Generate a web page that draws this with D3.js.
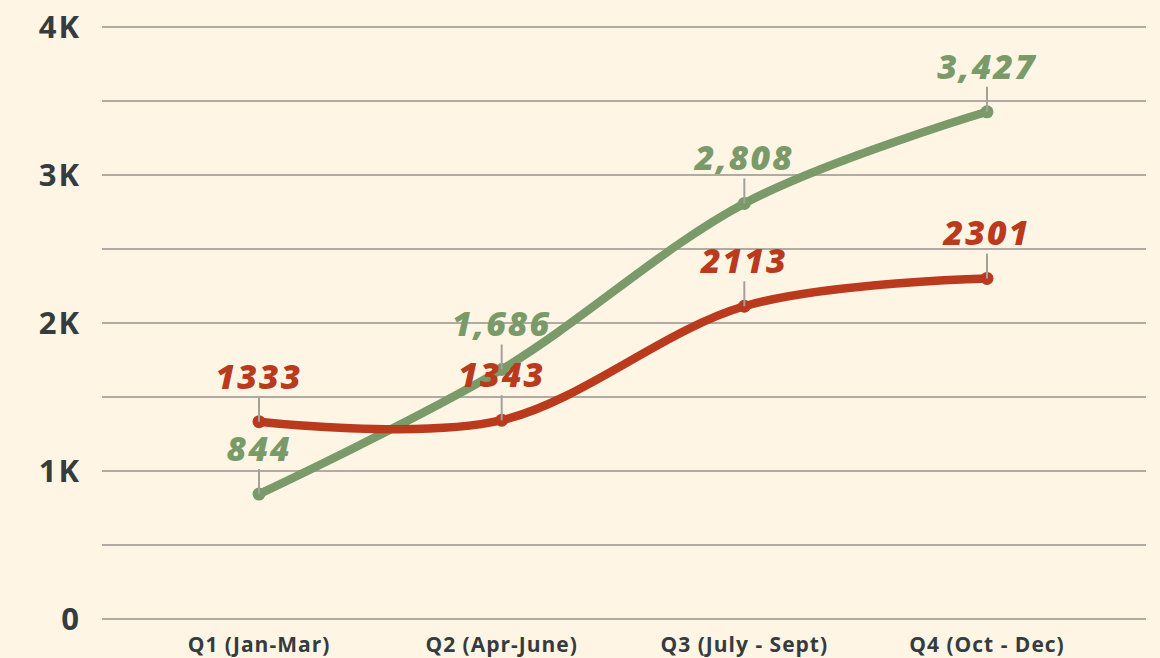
<!DOCTYPE html>
<html>
<head>
<meta charset="utf-8">
<script src="https://cdn.jsdelivr.net/npm/d3@7"></script>
<style>
  html, body { margin: 0; padding: 0; background: #FFF5E5; }
  text { font-family: "Open Sans", "DejaVu Sans", sans-serif; }
</style>
</head>
<body>
<script>
// chart data
const quarters = ["Q1 (Jan-Mar)", "Q2 (Apr-June)", "Q3 (July - Sept)", "Q4 (Oct - Dec)"];
const greenValues = [844, 1686, 2808, 3427];
const redValues = [1333, 1343, 2113, 2301];
const greenLabels = ["844", "1,686", "2,808", "3,427"];
const redLabels = ["1333", "1343", "2113", "2301"];
const yTicks = [0, 500, 1000, 1500, 2000, 2500, 3000, 3500, 4000];

const W = 1160, H = 658;
const bg = "#FFF5E5";
const gridColor = "#B1ABA3";
const textColor = "#363B3E";
const green = "#7A9B69";
const red = "#B93A1C";

const svg = d3.select("body").append("svg")
  .attr("width", W).attr("height", H)
  .style("background-color", bg);

const x = d3.scalePoint().domain(quarters).range([259, 987]);
const y = d3.scaleLinear().domain([0, 4000]).range([619, 27]);

// gridlines
svg.append("g").selectAll("line").data(yTicks).join("line")
  .attr("x1", 102).attr("x2", 1146)
  .attr("y1", d => y(d)).attr("y2", d => y(d))
  .attr("stroke", gridColor).attr("stroke-width", 2);

// y labels (only thousands)
svg.append("g").selectAll("text").data(yTicks.filter(d => d % 1000 === 0)).join("text")
  .attr("x", 81).attr("y", d => y(d) + 11)
  .attr("text-anchor", "end")
  .attr("font-size", 31).attr("font-weight", 700)
  .attr("letter-spacing", 2)
  .attr("fill", textColor)
  .text(d => d === 0 ? "0" : (d / 1000) + "K");

// x labels
svg.append("g").selectAll("text").data(quarters).join("text")
  .attr("x", d => x(d)).attr("y", 652)
  .attr("text-anchor", "middle")
  .attr("font-size", 21).attr("font-weight", 700)
  .attr("letter-spacing", 1)
  .attr("fill", textColor)
  .text(d => d);

const line = d3.line()
  .x((d, i) => x(quarters[i]))
  .y(d => y(d))
  .curve(d3.curveCardinal);

function drawSeries(values, color) {
  const g = svg.append("g");
  g.append("path").datum(values)
    .attr("d", line)
    .attr("fill", "none")
    .attr("stroke", color)
    .attr("stroke-width", 8.5)
    .attr("stroke-linecap", "round");
  g.selectAll("circle").data(values).join("circle")
    .attr("cx", (d, i) => x(quarters[i]))
    .attr("cy", d => y(d))
    .attr("r", 6.5)
    .attr("fill", color);
}

function drawLabels(values, labels, color) {
  const g = svg.append("g");
  g.selectAll("line").data(values).join("line")
    .attr("x1", (d, i) => x(quarters[i])).attr("x2", (d, i) => x(quarters[i]))
    .attr("y1", d => y(d) - 25).attr("y2", d => y(d))
    .attr("stroke", "#A3A19C").attr("stroke-width", 2);
  g.selectAll("text").data(values).join("text")
    .attr("x", (d, i) => x(quarters[i]))
    .attr("y", d => y(d) - 33)
    .attr("text-anchor", "middle")
    .attr("font-size", 34).attr("font-weight", 800)
    .attr("font-style", "italic")
    .attr("letter-spacing", 2)
    .attr("fill", color)
    .text((d, i) => labels[i]);
}

drawSeries(greenValues, green);
drawSeries(redValues, red);
drawLabels(greenValues, greenLabels, green);
drawLabels(redValues, redLabels, red);
</script>
</body>
</html>
